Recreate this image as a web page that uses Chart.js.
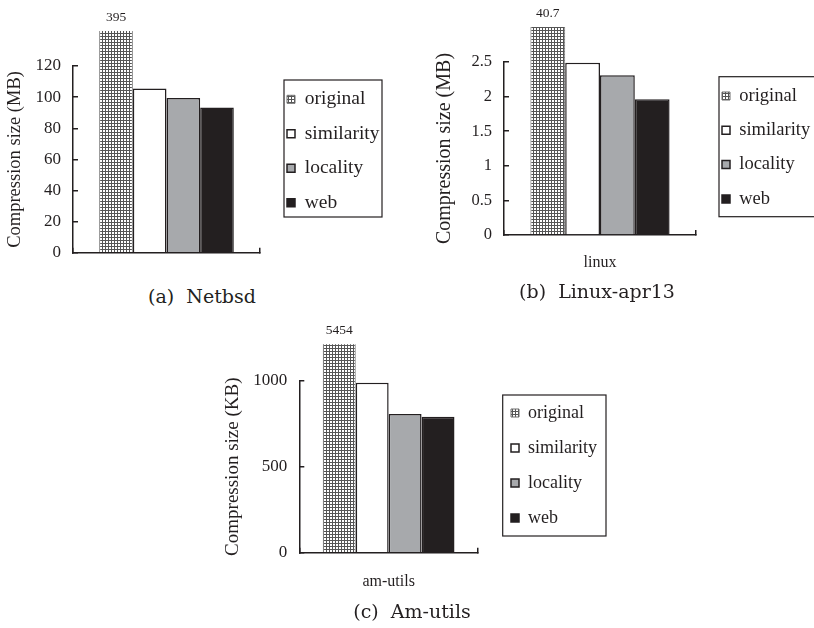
<!DOCTYPE html>
<html><head><meta charset="utf-8">
<script src="https://cdn.jsdelivr.net/npm/chart.js@4.4.1/dist/chart.umd.min.js"></script>
<style>
html,body{margin:0;padding:0;background:#fff;width:814px;height:628px;overflow:hidden;position:relative}
canvas{position:absolute}
.cap{position:absolute;font-family:'DejaVu Serif',serif;font-size:19px;color:#231f20;transform:translate(-50%,-50%);white-space:pre;line-height:1}
</style></head><body>
<canvas id="ca" width="410" height="280" style="left:0;top:0"></canvas>
<canvas id="cb" width="404" height="280" style="left:410px;top:0"></canvas>
<canvas id="cc" width="420" height="313" style="left:200px;top:315px"></canvas>
<div class="cap" style="left:202px;top:296px">(a)  Netbsd</div>
<div class="cap" style="left:597px;top:291px">(b)  Linux-apr13</div>
<div class="cap" style="left:412px;top:611px">(c)  Am-utils</div>
<script>
// ---- data ----
const seriesNames = ['original', 'similarity', 'locality', 'web'];
const netbsdCategories = [''];
const netbsdValues = [395, 105.5, 99.4, 93.3];
const netbsdTicks = [0, 20, 40, 60, 80, 100, 120];
const linuxCategories = ['linux'];
const linuxValues = [40.7, 2.49, 2.31, 1.96];
const linuxTicks = [0, 0.5, 1, 1.5, 2, 2.5];
const amutilsCategories = ['am-utils'];
const amutilsValues = [5454, 988, 806, 791];
const amutilsTicks = [0, 500, 1000];
const yTitleMB = 'Compression size (MB)';
const yTitleKB = 'Compression size (KB)';

// ---- styles ----
const INK = '#231f20';
const FONT = "Liberation Serif, Times New Roman, serif";
Chart.defaults.font.family = FONT;
Chart.defaults.color = INK;
function gridPattern() {
  const c = document.createElement('canvas');
  c.width = 3; c.height = 3;
  const g = c.getContext('2d');
  g.fillStyle = '#ffffff'; g.fillRect(0, 0, 3, 3);
  g.fillStyle = '#555555'; g.fillRect(0, 0, 3, 1); g.fillRect(0, 0, 1, 3);
  return g.createPattern(c, 'repeat');
}
const seriesStyle = [
  {bg: gridPattern(), border: '#6d6d6d', bw: 1},
  {bg: '#ffffff', border: INK, bw: 1.5},
  {bg: '#a7a9ac', border: INK, bw: 1.5},
  {bg: INK, border: INK, bw: 1.5}
];

const legendPlacer = {
  id: 'legendPlacer',
  afterLayout(chart, args, o) {
    const lg = chart.legend;
    if (!lg) return;
    lg.left = o.left; lg.top = o.top;
    lg.width = 220; lg.height = 260;
    lg.right = o.left + 220; lg.bottom = o.top + 260;
  },
  afterDraw(chart, args, o) {
    const ctx = chart.ctx, f = o.frame;
    ctx.save();
    ctx.strokeStyle = INK; ctx.lineWidth = 1.2;
    ctx.strokeRect(f[0], f[1], f[2] - f[0], f[3] - f[1]);
    ctx.restore();
  }
};
const breakLabel = {
  id: 'breakLabel',
  afterDatasetsDraw(chart, args, o) {
    const bar = chart.getDatasetMeta(0).data[0];
    const v = chart.data.datasets[0].data[0];
    const ctx = chart.ctx;
    ctx.save();
    ctx.font = o.size + 'px ' + FONT;
    ctx.fillStyle = INK; ctx.textAlign = 'center'; ctx.textBaseline = 'middle';
    ctx.fillText(String(v), bar.x, chart.chartArea.top - o.clipTop - o.gap);
    ctx.restore();
  }
};

function makeChart(id, cats, values, ticks, yTitle, c) {
  const datasets = seriesNames.map((name, i) => ({
    label: name,
    data: [values[i]],
    backgroundColor: seriesStyle[i].bg,
    borderColor: seriesStyle[i].border,
    borderWidth: seriesStyle[i].bw,
    categoryPercentage: c.catPct,
    barPercentage: 1,
    clip: {left: false, top: c.clipTop, right: false, bottom: false}
  }));
  return new Chart(document.getElementById(id), {
    type: 'bar',
    data: {labels: cats, datasets},
    plugins: [legendPlacer, breakLabel],
    options: {
      responsive: false, animation: false, devicePixelRatio: 1,
      layout: {padding: {left: c.padLeft, top: c.padTop, right: c.padRight, bottom: 0}},
      scales: {
        x: {
          grid: {offset: true, drawOnChartArea: false, drawTicks: true, tickLength: -5, color: INK, lineWidth: 1.5},
          border: {color: INK, width: 1.5},
          ticks: {color: INK, font: {family: FONT, size: 16}, padding: c.xTickPad},
          afterFit: s => { s.height = c.xHeight; }
        },
        y: {
          min: ticks[0], max: ticks[ticks.length - 1],
          afterBuildTicks: s => { s.ticks = ticks.map(v => ({value: v})); },
          grid: {drawOnChartArea: false, drawTicks: true, tickLength: -5, color: INK, lineWidth: 1.5},
          border: {color: INK, width: 1.5},
          ticks: {color: INK, font: {family: FONT, size: c.tickSize}, padding: 17, callback: v => String(v)},
          title: {display: true, text: yTitle, color: INK, font: {family: FONT, size: c.titleSize}, padding: {top: c.titlePad, bottom: 0}},
          afterFit: s => { s.width = c.yWidth; }
        }
      },
      plugins: {
        legend: {
          position: 'right', align: 'start', maxWidth: 0.01,
          labels: {color: INK, font: {family: FONT, size: c.legendSize}, boxWidth: 8, boxHeight: 8, padding: c.legendPad}
        },
        tooltip: {enabled: false},
        legendPlacer: {left: c.markerLeft - c.legendPad, top: c.firstRow - c.legendSize / 2 - c.legendPad, frame: c.frame},
        breakLabel: {clipTop: c.clipTop, gap: 14, size: 13.5}
      }
    }
  });
}

makeChart('ca', netbsdCategories, netbsdValues, netbsdTicks, yTitleMB, {
  padLeft: 0, padTop: 66, padRight: 150, yWidth: 73, xHeight: 17, xTickPad: 23,
  tickSize: 17, titleSize: 18.5, titlePad: 4, catPct: 0.72, clipTop: 35,
  legendSize: 19.5, legendPad: 34.5 - 19.5, markerLeft: 287, firstRow: 99.3,
  frame: [284, 80, 382, 217]
});
makeChart('cb', linuxCategories, linuxValues, linuxTicks, yTitleMB, {
  padLeft: 20, padTop: 62, padRight: 118, yWidth: 74, xHeight: 45, xTickPad: 23.4,
  tickSize: 16.5, titleSize: 20, titlePad: 3, catPct: 0.725, clipTop: 35,
  legendSize: 18.5, legendPad: 34.3 - 18.5, markerLeft: 312, firstRow: 96,
  frame: [309, 76.7, 440, 216.7]
});
makeChart('cc', amutilsCategories, amutilsValues, amutilsTicks, yTitleKB, {
  padLeft: 20, padTop: 65.7, padRight: 142, yWidth: 79.3, xHeight: 75.3, xTickPad: 24.7,
  tickSize: 17, titleSize: 19, titlePad: 1.6, catPct: 0.737, clipTop: 36.5,
  legendSize: 18, legendPad: 35 - 18, markerLeft: 311, firstRow: 98,
  frame: [302.7, 80, 406, 221]
});
</script>
</body></html>
